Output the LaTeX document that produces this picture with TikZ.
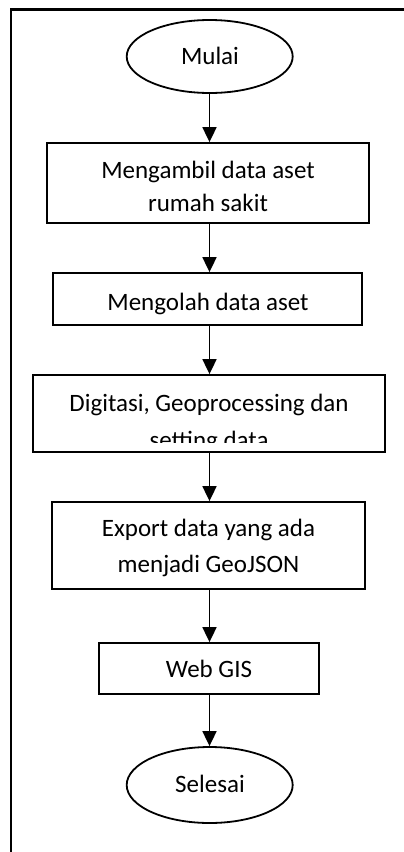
\documentclass[tikz,border=0pt]{standalone}
\usepackage{fontspec}
\setmainfont{Carlito}
\usetikzlibrary{shapes.geometric,arrows.meta}
\begin{document}
\begin{tikzpicture}[x=1pt,y=-1pt,
  box/.style={draw,line width=1.8pt,rectangle,inner sep=0pt},
  oval/.style={draw,line width=1.8pt,ellipse,inner sep=0pt},
  txt/.style={anchor=base,inner sep=0pt,font=\fontsize{25}{30}\selectfont},
  arr/.style={line width=1.8pt,-{Triangle[length=15pt,width=14pt]}},
  frame/.style={line width=2.2pt}]
\useasboundingbox (0,0) rectangle (404,852);
\draw[frame] (404,9.5) -- (11,9.5) -- (11,852);
% shapes
\node[oval,minimum width=166pt,minimum height=73pt] (e1) at (209.7,56.5) {};
\node[box,minimum width=322pt,minimum height=80pt] (b1) at (208,183) {};
\node[box,minimum width=309pt,minimum height=52pt] (b2) at (207.5,299) {};
\node[box,minimum width=352pt,minimum height=77pt] (b3) at (209,413.5) {};
\node[box,minimum width=313pt,minimum height=87pt] (b4) at (208.5,545.5) {};
\node[box,minimum width=220pt,minimum height=51pt] (b5) at (209,668.5) {};
\node[oval,minimum width=166pt,minimum height=76pt] (e2) at (209.7,785) {};
% texts
\node[txt] (t0) at (210,64) {Mulai};
\node[txt] (t1a) at (208,178) {Mengambil data aset};
\node[txt] (t1b) at (208,211) {rumah sakit};
\node[txt] (t2) at (208,310) {Mengolah data aset};
\node[txt] (t3a) at (209,411) {Digitasi, Geoprocessing dan};
\begin{scope}
\clip (33,375) rectangle (385,442);
\node[txt] (t3b) at (209,448) {setting data};
\end{scope}
\node[txt] (t4a) at (208.5,536) {Export data yang ada};
\node[txt] (t4b) at (208.5,572) {menjadi GeoJSON};
\node[txt] (t5) at (209,677) {Web GIS};
\node[txt] (t6) at (210,792) {Selesai};
% arrows
\coordinate (ax) at (209.5,0);
\draw[arr] (e1.south -| ax) -- (b1.north -| ax);
\draw[arr] (b1.south -| ax) -- (b2.north -| ax);
\draw[arr] (b2.south -| ax) -- (b3.north -| ax);
\draw[arr] (b3.south -| ax) -- (b4.north -| ax);
\draw[arr] (b4.south -| ax) -- (b5.north -| ax);
\draw[arr] (b5.south -| ax) -- (e2.north -| ax);
\end{tikzpicture}
\end{document}
